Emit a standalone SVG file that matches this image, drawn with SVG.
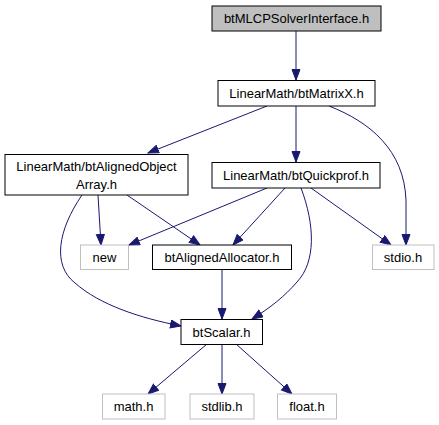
<svg xmlns="http://www.w3.org/2000/svg" width="439" height="425" viewBox="0 0 439 425">
<style>
.n rect{fill:#ffffff;stroke:#000000;stroke-width:1}
.n.g rect{stroke:#bfbfbf}
.n.root rect{fill:#bfbfbf}
text{font-family:"Liberation Sans",Arial,sans-serif;font-size:13px;fill:#000000;text-anchor:middle}
.e path{fill:none;stroke:#191970;stroke-width:1;marker-end:url(#ah)}
</style>
<defs>
<marker id="ah" markerUnits="userSpaceOnUse" markerWidth="12" markerHeight="10" refX="11" refY="4.5" orient="auto">
<path d="M0.5,0.5 L11,4.5 L0.5,8.5 z" fill="#191970" stroke="#191970" stroke-width="1"/>
</marker>
</defs>
<rect width="439" height="425" fill="#ffffff"/>
<g id="edges" class="e">
<path d="M296,31 L296,80"/>
<path d="M267,106 L148,153"/>
<path d="M296,106 L296,162"/>
<path d="M329,106 C370,122 404,150 406,200 L406,245"/>
<path d="M98,195 L101,245"/>
<path d="M127,195 L200,245"/>
<path d="M82,195 C58,230 52,265 75,283 C100,305 140,318 181,326"/>
<path d="M267,188 L129,245"/>
<path d="M285,188 L233,245"/>
<path d="M301,188 C315,225 316,262 297,282 C285,296 270,308 252,319"/>
<path d="M311,188 L391,245"/>
<path d="M222,269 L222,319"/>
<path d="M207,344 L148,394"/>
<path d="M222,344 L222,394"/>
<path d="M236,344 L292,394"/>
</g>
<g id="node_mlcp" class="n root"><rect x="212" y="6" width="169" height="25"/><text x="296.5" y="23">btMLCPSolverInterface.h</text></g>
<g id="node_matrixx" class="n"><rect x="218" y="80.5" width="157" height="25.5"/><text x="296.5" y="97.5">LinearMath/btMatrixX.h</text></g>
<g id="node_alignedobjectarray" class="n"><rect x="5" y="154.5" width="183" height="40.5"/><text x="96.5" y="171">LinearMath/btAlignedObject</text><text x="96.5" y="189">Array.h</text></g>
<g id="node_quickprof" class="n"><rect x="212" y="162.5" width="168" height="25.5"/><text x="296" y="179.5">LinearMath/btQuickprof.h</text></g>
<g id="node_new" class="n g"><rect x="80.5" y="245" width="48" height="24.5"/><text x="104.5" y="261.5">new</text></g>
<g id="node_alignedallocator" class="n"><rect x="152.5" y="245" width="139" height="24.5"/><text x="222" y="261.5">btAlignedAllocator.h</text></g>
<g id="node_stdio" class="n g"><rect x="372.5" y="245" width="61.5" height="24.5"/><text x="403" y="261.5">stdio.h</text></g>
<g id="node_scalar" class="n"><rect x="181" y="319.5" width="81.5" height="25"/><text x="221.5" y="336.5">btScalar.h</text></g>
<g id="node_math" class="n g"><rect x="102.5" y="394" width="62.5" height="25"/><text x="133.5" y="411">math.h</text></g>
<g id="node_stdlib" class="n g"><rect x="190" y="394" width="64" height="25"/><text x="222" y="411">stdlib.h</text></g>
<g id="node_float" class="n g"><rect x="277.5" y="394" width="59" height="25"/><text x="307" y="411">float.h</text></g>
</svg>
